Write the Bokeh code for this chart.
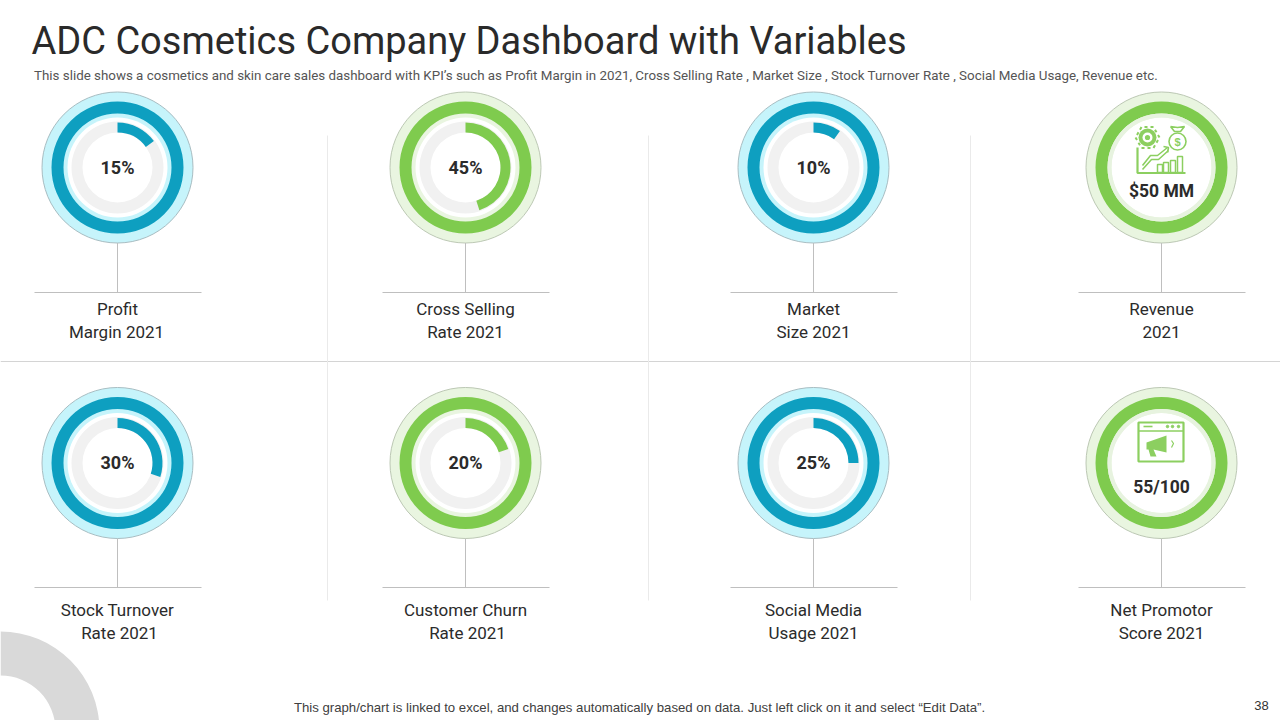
from math import pi
from bokeh.plotting import figure
from bokeh.models import Range1d
from bokeh.core.properties import value
from bokeh.embed import file_html
from bokeh.resources import INLINE

# ---- data
title = "ADC Cosmetics Company Dashboard with Variables"
subtitle = ("This slide shows a cosmetics and skin care sales dashboard with KPI\u2019s such as Profit Margin in 2021, "
            "Cross Selling Rate , Market Size , Stock Turnover Rate , Social Media Usage, Revenue etc.")
footer = "This graph/chart is linked to excel, and changes automatically based on data. Just left click on it and select \u201cEdit Data\u201d."
page_number = "38"

row1_pct = [15, 45, 10]
row2_pct = [30, 20, 25]
row1_kinds = ["blue", "green", "blue", "green"]
row2_kinds = ["blue", "green", "blue", "green"]
row1_values = ["15%", "45%", "10%", "$50 MM"]
row2_values = ["30%", "20%", "25%", "55/100"]
row1_labels = [("Profit", "Margin 2021"), ("Cross Selling", "Rate 2021"), ("Market", "Size 2021"), ("Revenue", "2021")]
row2_labels = [("Stock Turnover", "Rate 2021"), ("Customer Churn", "Rate 2021"), ("Social Media", "Usage 2021"), ("Net Promotor", "Score 2021")]

# ---- styling
PAL = {"blue": ("#C6F4FB", "#0E9FC0", "#A8BDC2"), "green": ("#E9F5E0", "#7FCB4E", "#BCC8B4")}
NARROW = value("Roboto")
ARIAL = value("Liberation Sans")
TXT = "#2B2B2B"
LINE = "#D4D4D4"
W, H = 1280, 720
Y = lambda py: 720 - py

p = figure(width=W, height=H, output_backend="svg", toolbar_location=None,
           x_range=Range1d(0, W), y_range=Range1d(0, H), min_border=0)
p.xaxis.visible = False
p.yaxis.visible = False
p.grid.visible = False
p.outline_line_color = None
p.background_fill_color = "white"

# decorative quarter ring
p.annular_wedge([0], [Y(730)], 55, 99, 0, pi / 2, color="#D9D9D9", line_color=None)

# separators
p.line([0, 1280], [Y(361), Y(361)], line_color=LINE, line_width=1)
for vx in (327, 648, 970):
    p.line([vx, vx], [Y(135), Y(600)], line_color="#EAEAEA", line_width=1)


def txt(x, py, s, font=NARROW, size="17px", style="normal", color=TXT, align="center"):
    p.text([x], [Y(py)], text=[s], text_font=font, text_font_size=size, text_font_style=style,
           text_color=color, text_align=align, text_baseline="middle")


def card(cx, cy, rule_y, label_y, shift, kind, val, lab, pct=None):
    light, dark, edge = PAL[kind]
    y = Y(cy)
    p.circle([cx], [y], radius=75.5, fill_color=light, line_color=edge, line_width=1)
    p.annulus([cx], [y], 54, 66, fill_color=dark, line_color=None)
    p.circle([cx], [y], radius=50, fill_color="white", line_color=None)
    if pct is not None:
        p.annulus([cx], [y], 35, 46, fill_color="#F1F1F1", line_color=None)
        p.annular_wedge([cx], [y], 35, 45, pi / 2, pi / 2 - 2 * pi * pct / 100, direction="clock",
                        fill_color=dark, line_color=None)
        txt(cx, cy - 0.5, val, size="18px", style="bold")
    else:
        p.annulus([cx], [y], 50, 54, fill_color="#E7F3DF", line_color=None)
    p.line([cx, cx], [Y(cy + 75.5), Y(rule_y)], line_color="#BFBFBF", line_width=1)
    p.line([cx - 83, cx + 84], [Y(rule_y), Y(rule_y)], line_color="#BFBFBF", line_width=1)
    txt(cx, label_y, lab[0])
    txt(cx + shift, label_y + 23, lab[1])


def icon_line(pts, color, w=1.6):
    p.line([a for a, _ in pts], [Y(b) for _, b in pts], line_color=color, line_width=w)


CX = [117, 465, 813, 1161]
ROW2_SHIFT = [2, 2, 0, 0]
for i in range(4):
    pct1 = row1_pct[i] if i < 3 else None
    pct2 = row2_pct[i] if i < 3 else None
    card(CX[i], 167, 292, 308, -1 if i == 0 else 0, row1_kinds[i], row1_values[i], row1_labels[i], pct1)
    card(CX[i], 462.5, 587, 609, ROW2_SHIFT[i], row2_kinds[i], row2_values[i], row2_labels[i], pct2)

txt(1161, 190.5, row1_values[3], size="17.5px", style="bold")
txt(1161, 486.5, row2_values[3], size="17.5px", style="bold")

# revenue icon
G = "#8CCF60"
p.circle([1147], [Y(137)], radius=9, fill_color=G, line_color=None)
p.scatter([1147], [Y(137)], size=24, marker="hex", fill_color=None, line_color=G, line_width=2, line_dash="3 3")
p.circle([1147], [Y(137)], radius=5, fill_color="white", line_color=None)
p.circle([1147], [Y(137)], radius=2.6, fill_color=G, line_color=None)
icon_line([(1137, 147), (1137, 172.5), (1185, 172.5)], G, 2.2)
icon_line([(1142, 165), (1150, 155), (1157, 155), (1167, 147)], G)
icon_line([(1142, 169), (1151, 159), (1158, 159), (1168, 150)], G)
icon_line([(1163, 146), (1168, 147), (1167, 152)], G)
for bx, top in ((1157, 164), (1163, 162), (1170, 160), (1177, 156)):
    p.quad([bx], [bx + 5], [Y(172)], [Y(top)], fill_color="white", line_color=G, line_width=1.5)
p.circle([1177], [Y(141)], radius=8.5, fill_color="white", line_color=G, line_width=1.6)
icon_line([(1170, 126), (1174, 131), (1180, 131), (1184, 126), (1177, 127), (1170, 126)], G)
p.text([1177], [Y(141)], text=["$"], text_font=ARIAL, text_font_size="11px", text_font_style="bold",
       text_color=G, text_align="center", text_baseline="middle")

# promotor icon
p.quad([1138], [1183], [Y(461)], [Y(422)], fill_color="white", line_color=G, line_width=2.2)
icon_line([(1138, 430.5), (1183, 430.5)], G, 1.6)
icon_line([(1143, 426), (1152, 426)], G, 1.6)
p.scatter([1167, 1172, 1178], [Y(426)] * 3, size=2.5, marker="circle", color=G)
p.patch([1146, 1166, 1166, 1153, 1156, 1150, 1148, 1146],
        [Y(v) for v in (442, 435, 452, 449, 456, 456, 449, 449)], fill_color=G, line_color=None)
icon_line([(1171, 440), (1173, 443), (1171, 447)], G, 1.2)

# texts
txt(31, 40, title, size="38px", align="left", color="#2A2A2A")
txt(33.5, 75, subtitle, size="13.35px", align="left", color="#555555")
txt(639, 707, footer, font=ARIAL, size="13.2px", color="#404040")
txt(1261, 705, page_number, font=ARIAL, size="13px", color="#333333")

open("out.html", "w").write(file_html(p, INLINE))
